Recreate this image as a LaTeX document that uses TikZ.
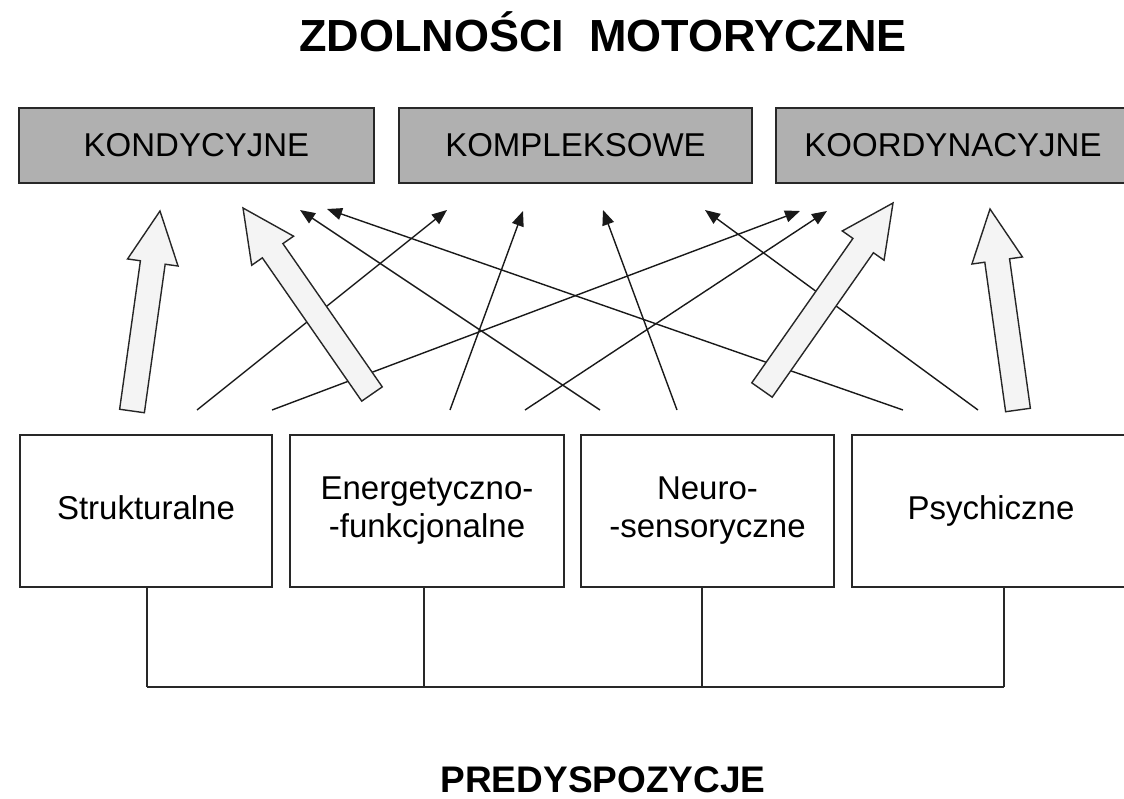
\documentclass[tikz,border=0pt]{standalone}
\usepackage{fontspec}
\setmainfont{Liberation Sans}
\usetikzlibrary{calc,arrows.meta}
\definecolor{boxgray}{RGB}{176,176,176}
\definecolor{linegray}{RGB}{40,40,40}
\definecolor{arrowfill}{RGB}{244,244,244}
\newcommand{\blockarrow}[2]{%
  \coordinate (hb) at ($(#2)!52pt!(#1)$);
  \draw[barrow] ($(#1)!12.5pt!90:(#2)$) -- ($(hb)!12.5pt!90:(#2)$) -- ($(hb)!25.5pt!90:(#2)$) -- (#2)
    -- ($(hb)!25.5pt!-90:(#2)$) -- ($(hb)!12.5pt!-90:(#2)$) -- ($(#1)!12.5pt!-90:(#2)$) -- cycle;}
\begin{document}
\begin{tikzpicture}[x=1pt,y=-1pt,
  topbox/.style={draw=linegray, line width=1.6pt, fill=boxgray, minimum height=75pt, inner sep=0pt,
    font=\fontsize{33}{38}\selectfont},
  botbox/.style={draw=linegray, line width=1.6pt, fill=white, minimum height=152pt, inner sep=0pt,
    align=center, font=\fontsize{33}{38}\selectfont},
  oneline/.style={text height=24pt, text depth=7pt},
  thin/.style={draw=black!90, line width=1.4pt, -{Triangle[length=15pt,width=12pt]}},
  barrow/.style={draw=black!85, line width=1.4pt, fill=arrowfill, line join=miter},
  conn/.style={draw=linegray, line width=1.5pt},
  titlestyle/.style={font=\fontsize{45}{50}\selectfont\bfseries}]
\useasboundingbox (0,0) rectangle (1124,799);
\clip (0,0) rectangle (1124,799);

% titles
\node[titlestyle] (title) at (603,32) {ZDOLNOŚCI\ \ MOTORYCZNE};
\node[font=\fontsize{37}{42}\selectfont\bfseries, inner sep=0pt, anchor=base] (pred) at (603,792) {PREDYSPOZYCJE};

% top boxes
\node[topbox, minimum width=355pt] (k1) at (196.5,145.5) {KONDYCYJNE};
\node[topbox, minimum width=353pt] (k2) at (575.5,145.5) {KOMPLEKSOWE};
\node[topbox, minimum width=354pt] (k3) at (953,145.5) {KOORDYNACYJNE};

% bottom boxes
\node[botbox, oneline, minimum width=252pt] (b1) at (146,511) {Strukturalne};
\node[botbox, minimum width=274pt] (b2) at (427,511) {Energetyczno-\\-funkcjonalne};
\node[botbox, minimum width=253pt] (b3) at (707.5,511) {Neuro-\\-sensoryczne};
\node[botbox, oneline, minimum width=278pt] (b4) at (991,511) {Psychiczne};

% bus
\coordinate (j1) at (147,687);
\coordinate (j2) at (424,687);
\coordinate (j3) at (702,687);
\coordinate (j4) at (1004,687);
\draw[conn] (b1.south -| j1) -- (j1);
\draw[conn] (b2.south -| j2) -- (j2);
\draw[conn] (b3.south -| j3) -- (j3);
\draw[conn] (b4.south -| j4) -- (j4);
\draw[conn] (j1) -- (j4);

% thin arrows: start and end points
\coordinate (s1) at (197,410); \coordinate (t1) at (447,210);
\coordinate (s2) at (272,410); \coordinate (t2) at (800,211);
\coordinate (s3) at (450,410); \coordinate (t3) at (523,211);
\coordinate (s4) at (525,410); \coordinate (t4) at (827,211);
\coordinate (s5) at (600,410); \coordinate (t5) at (300,210);
\coordinate (s6) at (677,410); \coordinate (t6) at (603,210);
\coordinate (s7) at (903,410); \coordinate (t7) at (327,209);
\coordinate (s8) at (978,410); \coordinate (t8) at (705,210);
\foreach \i in {1,...,8} {\draw[thin] (s\i) -- (t\i);}

% block arrows
\coordinate (a1) at (132,411); \coordinate (e1) at (160,211);
\coordinate (a2) at (372,394); \coordinate (e2) at (243,208);
\coordinate (a3) at (762,390); \coordinate (e3) at (893,203);
\coordinate (a4) at (1018,410); \coordinate (e4) at (990,209);
\blockarrow{a1}{e1}
\blockarrow{a2}{e2}
\blockarrow{a3}{e3}
\blockarrow{a4}{e4}
\end{tikzpicture}
\end{document}
